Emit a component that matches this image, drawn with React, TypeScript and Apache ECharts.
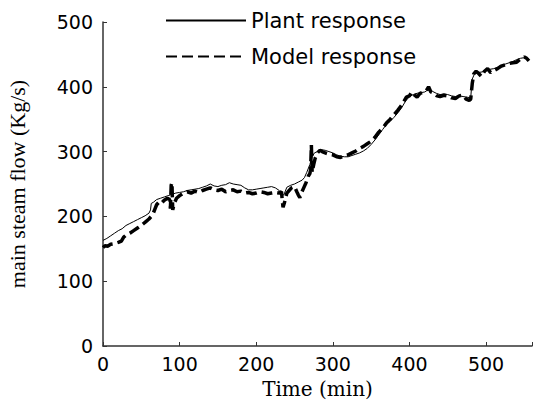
import React, { useEffect, useRef } from "react";
import * as echarts from "echarts";

const plantTime = [0, 5, 10, 15, 20, 25, 30, 35, 40, 45, 50, 55, 60, 62, 63, 66, 70, 75, 80, 85, 90, 95, 100, 105, 110, 115, 120, 125, 130, 135, 140, 145, 150, 155, 160, 165, 170, 175, 180, 185, 190, 195, 200, 205, 210, 215, 220, 225, 230, 234, 236, 240, 245, 250, 255, 260, 263, 266, 270, 273, 276, 280, 285, 290, 295, 300, 305, 310, 315, 320, 325, 330, 335, 340, 345, 350, 355, 360, 365, 370, 375, 380, 385, 390, 395, 400, 405, 410, 415, 420, 425, 430, 435, 440, 445, 450, 455, 460, 465, 470, 475, 480, 482, 485, 490, 495, 500, 505, 510, 515, 520, 525, 530, 535, 540, 545, 550, 556];
const plantFlow = [163, 166, 170, 174, 178, 181, 186, 189, 192, 195, 198, 201, 205, 210, 220, 222, 226, 228, 230, 232, 234, 236, 237, 238, 240, 241, 242, 243, 245, 247, 250, 247, 246, 248, 249, 252, 250, 249, 248, 244, 241, 241, 242, 243, 244, 245, 246, 244, 240, 234, 233, 245, 248, 250, 253, 256, 260, 268, 280, 292, 298, 300, 303, 302, 300, 298, 295, 293, 292, 292, 294, 296, 298, 301, 305, 311, 318, 326, 334, 342, 347, 353, 360, 368, 378, 385, 388, 390, 391, 392, 396, 393, 390, 388, 389, 388, 386, 385, 386, 385, 384, 383, 412, 420, 422, 423, 425, 427, 428, 430, 433, 435, 437, 439, 442, 444, 445, 443];

const modelTime = [0, 3, 6, 10, 15, 20, 24, 27, 30, 35, 40, 45, 50, 53, 56, 60, 63, 66, 68, 70, 73, 76, 80, 84, 87, 88, 89, 90, 91, 93, 96, 100, 105, 110, 115, 120, 125, 130, 135, 140, 145, 150, 155, 160, 165, 170, 175, 180, 185, 190, 195, 200, 205, 210, 215, 220, 225, 230, 233, 234, 235, 237, 240, 243, 246, 250, 253, 255, 257, 259, 262, 265, 268, 270, 271, 272, 273, 275, 277, 280, 283, 286, 290, 295, 300, 305, 310, 315, 320, 325, 330, 335, 340, 345, 350, 355, 360, 365, 370, 375, 380, 385, 390, 393, 396, 400, 403, 406, 410, 414, 418, 422, 425, 428, 432, 436, 440, 445, 450, 455, 460, 465, 470, 474, 478, 480, 482, 484, 487, 490, 494, 498, 502, 506, 510, 515, 520, 525, 530, 535, 540, 545, 550, 553, 556];
const modelFlow = [152, 155, 154, 157, 158, 160, 162, 168, 171, 174, 178, 182, 186, 189, 192, 196, 200, 206, 212, 218, 222, 220, 225, 228, 226, 212, 248, 252, 210, 220, 228, 232, 236, 238, 236, 239, 237, 240, 242, 244, 241, 240, 242, 238, 240, 241, 238, 239, 236, 237, 235, 236, 238, 237, 235, 236, 237, 236, 238, 225, 214, 222, 236, 240, 244, 246, 238, 233, 229, 236, 244, 252, 262, 266, 272, 310, 268, 280, 290, 298, 302, 300, 298, 296, 295, 292, 291, 294, 295, 298, 301, 305, 308, 312, 316, 322, 330, 336, 344, 350, 357, 364, 372, 378, 384, 386, 392, 388, 384, 390, 392, 394, 400, 392, 390, 386, 385, 387, 386, 383, 382, 386, 387, 381, 379, 381, 405, 420, 424, 421, 416, 424, 428, 422, 425, 428, 432, 434, 436, 437, 438, 443, 446, 444, 440];

const xTicks = [0, 100, 200, 300, 400, 500];

export default function App() {
  const ref = useRef<HTMLDivElement>(null);
  useEffect(() => {
    if (!ref.current) return;
    const chart = echarts.init(ref.current, null, { renderer: "svg" });
    const wideSans = "DejaVu Sans, Verdana, sans-serif";
    const wideSerif = "DejaVu Serif, Georgia, serif";
    const serif = "Liberation Serif, Times New Roman, serif";
    chart.setOption({
      animation: false,
      backgroundColor: "#fff",
      grid: { left: 103, right: 2, top: 22, bottom: 59, containLabel: false, outerBoundsMode: "none" },
      legend: {
        orient: "vertical",
        left: 165,
        top: 10,
        padding: 0,
        itemWidth: 80,
        itemHeight: 14,
        itemGap: 15,
        itemStyle: { opacity: 0 },
        textStyle: { fontFamily: wideSans, fontSize: 21, color: "#000" },
        data: ["Plant response", "Model response"],
      },
      xAxis: {
        type: "value",
        min: 0,
        max: 560,
        interval: 100,
        splitLine: { show: false },
        axisLine: { lineStyle: { color: "#333", width: 1.5 } },
        axisTick: { inside: true, length: 4, lineStyle: { color: "#333" } },
        axisLabel: {
          fontFamily: wideSans,
          fontSize: 19,
          color: "#000",
          margin: 8,
          formatter: (v: number) => (xTicks.includes(v) ? String(v) : ""),
        },
        name: "Time (min)",
        nameLocation: "middle",
        nameGap: 33,
        nameTextStyle: { fontFamily: wideSerif, fontSize: 20, color: "#000" },
      },
      yAxis: {
        type: "value",
        min: 0,
        max: 500,
        interval: 100,
        splitLine: { show: false },
        axisLine: { show: true, lineStyle: { color: "#333", width: 1.5 } },
        axisTick: { show: true, inside: true, length: 4, lineStyle: { color: "#333" } },
        axisLabel: { fontFamily: wideSans, fontSize: 19, color: "#000", margin: 10 },
        name: "main steam flow (Kg/s)",
        nameLocation: "middle",
        nameGap: 75,
        nameTextStyle: { fontFamily: serif, fontSize: 22, color: "#000" },
      },
      series: [
        {
          name: "Plant response",
          type: "line",
          data: plantTime.map((t, i) => [t, plantFlow[i]]),
          symbol: "none",
          lineStyle: { color: "#000", width: 1 },
          itemStyle: { color: "#000" },
          z: 3,
        },
        {
          name: "Model response",
          type: "line",
          data: modelTime.map((t, i) => [t, modelFlow[i]]),
          symbol: "none",
          lineStyle: { color: "#000", width: 3.5, type: [11, 5] },
          itemStyle: { color: "#000" },
          z: 2,
        },
      ],
    });
    return () => chart.dispose();
  }, []);
  return <div ref={ref} style={{ width: 534, height: 405, position: "absolute", left: 0, top: 0 }} />;
}
